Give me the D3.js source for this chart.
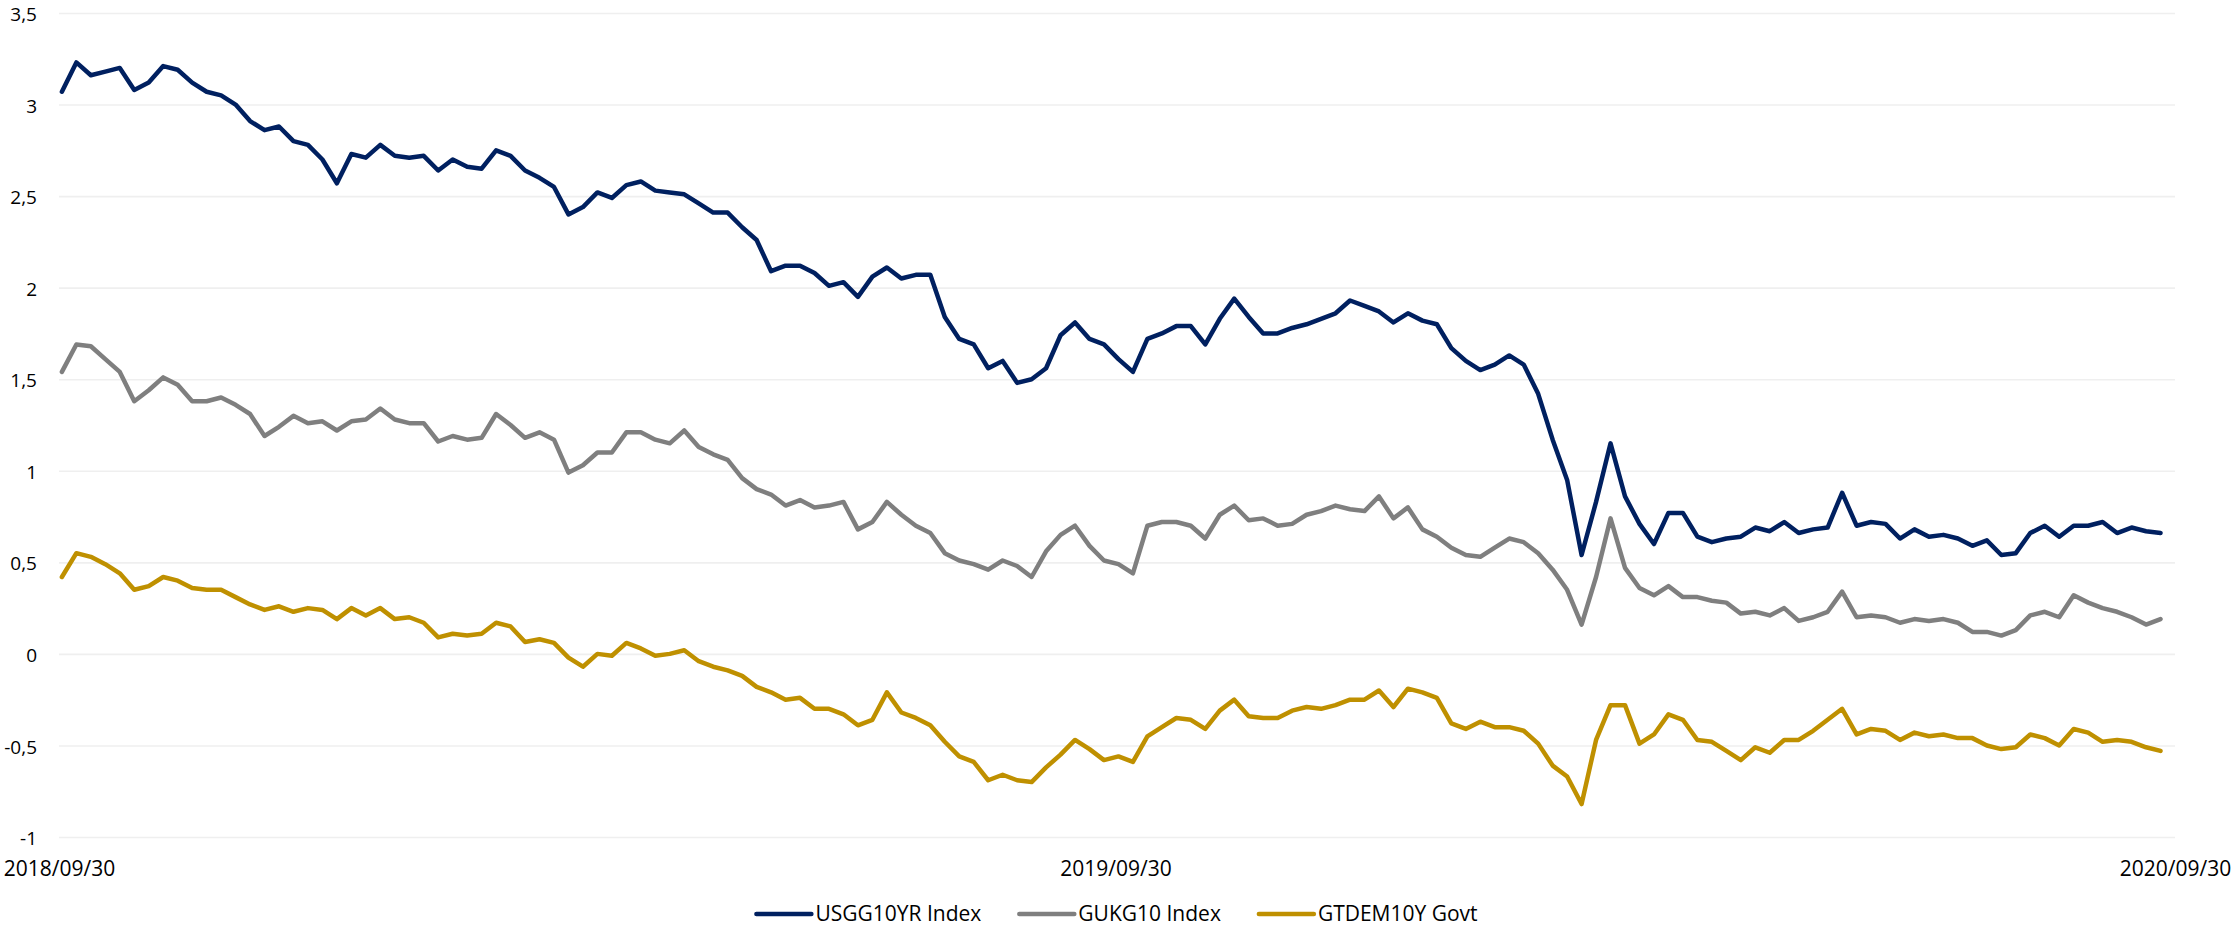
<!DOCTYPE html>
<html>
<head>
<meta charset="utf-8">
<script src="https://cdn.jsdelivr.net/npm/d3@7"></script>
<style>
  body { margin: 0; background: #fff; }
  svg text { font-family: "Open Sans", sans-serif; fill: #000; }
</style>
</head>
<body>
<svg id="chart"></svg>
<script>

// samples every 5 days starting 2018/10/01
const startDate = new Date(2018, 9, 1);
const stepDays = 5;

const usgg10yr = [
  3.07, 3.23, 3.16, 3.18, 3.20, 3.08, 3.12, 3.21, 3.19, 3.12, 3.07, 3.05, 3.00, 2.91, 2.86, 2.88, 2.80, 2.78, 2.70, 2.57, 2.73,
  2.71, 2.78, 2.72, 2.71, 2.72, 2.64, 2.70, 2.66, 2.65, 2.75, 2.72, 2.64, 2.60, 2.55, 2.40, 2.44, 2.52, 2.49, 2.56, 2.58, 2.53,
  2.52, 2.51, 2.46, 2.41, 2.41, 2.33, 2.26, 2.09, 2.12, 2.12, 2.08, 2.01, 2.03, 1.95, 2.06, 2.11, 2.05, 2.07, 2.07, 1.84, 1.72,
  1.69, 1.56, 1.60, 1.48, 1.50, 1.56, 1.74, 1.81, 1.72, 1.69, 1.61, 1.54, 1.72, 1.75, 1.79, 1.79, 1.69, 1.83, 1.94, 1.84, 1.75,
  1.75, 1.78, 1.80, 1.83, 1.86, 1.93, 1.90, 1.87, 1.81, 1.86, 1.82, 1.80, 1.67, 1.60, 1.55, 1.58, 1.63, 1.58, 1.42, 1.17, 0.95,
  0.54, 0.83, 1.15, 0.86, 0.71, 0.60, 0.77, 0.77, 0.64, 0.61, 0.63, 0.64, 0.69, 0.67, 0.72, 0.66, 0.68, 0.69, 0.88, 0.70, 0.72,
  0.71, 0.63, 0.68, 0.64, 0.65, 0.63, 0.59, 0.62, 0.54, 0.55, 0.66, 0.70, 0.64, 0.70, 0.70, 0.72, 0.66, 0.69, 0.67, 0.66
];

const gukg10 = [
  1.54, 1.69, 1.68, 1.61, 1.54, 1.38, 1.44, 1.51, 1.47, 1.38, 1.38, 1.40, 1.36, 1.31, 1.19, 1.24, 1.30, 1.26, 1.27, 1.22, 1.27,
  1.28, 1.34, 1.28, 1.26, 1.26, 1.16, 1.19, 1.17, 1.18, 1.31, 1.25, 1.18, 1.21, 1.17, 0.99, 1.03, 1.10, 1.10, 1.21, 1.21, 1.17,
  1.15, 1.22, 1.13, 1.09, 1.06, 0.96, 0.90, 0.87, 0.81, 0.84, 0.80, 0.81, 0.83, 0.68, 0.72, 0.83, 0.76, 0.70, 0.66, 0.55, 0.51,
  0.49, 0.46, 0.51, 0.48, 0.42, 0.56, 0.65, 0.70, 0.59, 0.51, 0.49, 0.44, 0.70, 0.72, 0.72, 0.70, 0.63, 0.76, 0.81, 0.73, 0.74,
  0.70, 0.71, 0.76, 0.78, 0.81, 0.79, 0.78, 0.86, 0.74, 0.80, 0.68, 0.64, 0.58, 0.54, 0.53, 0.58, 0.63, 0.61, 0.55, 0.46, 0.35,
  0.16, 0.42, 0.74, 0.47, 0.36, 0.32, 0.37, 0.31, 0.31, 0.29, 0.28, 0.22, 0.23, 0.21, 0.25, 0.18, 0.20, 0.23, 0.34, 0.20, 0.21,
  0.20, 0.17, 0.19, 0.18, 0.19, 0.17, 0.12, 0.12, 0.10, 0.13, 0.21, 0.23, 0.20, 0.32, 0.28, 0.25, 0.23, 0.20, 0.16, 0.19
];

const gtdem10y = [
  0.42, 0.55, 0.53, 0.49, 0.44, 0.35, 0.37, 0.42, 0.40, 0.36, 0.35, 0.35, 0.31, 0.27, 0.24, 0.26, 0.23, 0.25, 0.24, 0.19, 0.25,
  0.21, 0.25, 0.19, 0.20, 0.17, 0.09, 0.11, 0.10, 0.11, 0.17, 0.15, 0.065, 0.08, 0.06, -0.02, -0.07, 0.00, -0.01, 0.06, 0.03, -0.01,
  0.00, 0.02, -0.04, -0.07, -0.09, -0.12, -0.18, -0.21, -0.25, -0.24, -0.30, -0.30, -0.33, -0.39, -0.36, -0.21, -0.32, -0.35, -0.39, -0.48, -0.56,
  -0.59, -0.69, -0.66, -0.69, -0.70, -0.62, -0.55, -0.47, -0.52, -0.58, -0.56, -0.59, -0.45, -0.40, -0.35, -0.36, -0.41, -0.31, -0.25, -0.34, -0.35,
  -0.35, -0.31, -0.29, -0.30, -0.28, -0.25, -0.25, -0.20, -0.29, -0.19, -0.21, -0.24, -0.38, -0.41, -0.37, -0.40, -0.40, -0.42, -0.49, -0.61, -0.67,
  -0.82, -0.47, -0.28, -0.28, -0.49, -0.44, -0.33, -0.36, -0.47, -0.48, -0.53, -0.58, -0.51, -0.54, -0.47, -0.47, -0.42, -0.36, -0.30, -0.44, -0.41,
  -0.42, -0.47, -0.43, -0.45, -0.44, -0.46, -0.46, -0.50, -0.52, -0.51, -0.44, -0.46, -0.50, -0.41, -0.43, -0.48, -0.47, -0.48, -0.51, -0.53
];

const seriesNames = ["USGG10YR Index", "GUKG10 Index", "GTDEM10Y Govt"];
const seriesColors = ["#002060", "#7f7f7f", "#bf9000"];
const yTicks = [-1, -0.5, 0, 0.5, 1, 1.5, 2, 2.5, 3, 3.5];
const xTickLabels = ["2018/09/30", "2019/09/30", "2020/09/30"];

function drawChart(){

    const width = 2233, height = 929;
    const left = 59, right = 2175, top = 13, bottom = 837;

    const svg = d3.select("#chart")
                  .attr("width", width)
                  .attr("height", height);

    svg.selectAll("*").remove();

    const parse = d3.timeParse("%Y/%m/%d");
    const dates = usgg10yr.map((d, i) => d3.timeDay.offset(startDate, i * stepDays));

    const x = d3.scaleTime()
                .domain([parse(xTickLabels[0]), parse(xTickLabels[2])])
                .range([left, right]);

    const y = d3.scaleLinear()
                .domain([-1, 3.5])
                .range([bottom, top]);

    const fmt = v => String(v).replace(".", ",");

    // y axis: gridlines + labels
    const yAxis = d3.axisLeft(y)
                    .tickValues(yTicks)
                    .tickSize(-(right - left))
                    .tickPadding(22)
                    .tickFormat(fmt);

    svg.append("g")
       .attr("transform", `translate(${left},0)`)
       .call(yAxis)
       .call(g => g.select(".domain").remove())
       .call(g => g.selectAll(".tick line").attr("stroke", "#efefef").attr("stroke-width", 1.6))
       .call(g => g.selectAll(".tick text")
                   .attr("font-size", 19)
                   .attr("dy", "0.4em")
                   .attr("font-family", "Open Sans")
                   .attr("fill", "#000"));

    // x axis labels only
    const xAxis = d3.axisBottom(x)
                    .tickValues(xTickLabels.map(parse))
                    .tickSize(0)
                    .tickPadding(24)
                    .tickFormat(d3.timeFormat("%Y/%m/%d"));

    svg.append("g")
       .attr("transform", `translate(0,${bottom})`)
       .call(xAxis)
       .call(g => g.select(".domain").remove())
       .call(g => g.selectAll(".tick text")
                   .attr("font-size", 21)
                   .attr("font-family", "Open Sans")
                   .attr("fill", "#000"));

    const allSeries = [usgg10yr, gukg10, gtdem10y];

    const line = d3.line()
                   .x((d, i) => x(dates[i]))
                   .y(d => y(d));

    svg.append("g")
       .selectAll("path")
       .data(allSeries)
       .join("path")
       .attr("fill", "none")
       .attr("stroke", (d, i) => seriesColors[i])
       .attr("stroke-width", 4.5)
       .attr("stroke-linejoin", "round")
       .attr("stroke-linecap", "round")
       .attr("d", line);

    // legend, centred under the plot
    const legend = svg.append("g");
    const legY = 914;
    let cx = 0;
    seriesNames.forEach((name, i) => {
        const item = legend.append("g").attr("transform", `translate(${cx},0)`);
        item.append("line")
            .attr("x1", 0).attr("x2", 55)
            .attr("y1", legY).attr("y2", legY)
            .attr("stroke", seriesColors[i])
            .attr("stroke-width", 4.5)
            .attr("stroke-linecap", "round");
        const t = item.append("text")
            .attr("x", 59)
            .attr("y", legY)
            .attr("dy", "0.35em")
            .attr("font-size", 21)
            .text(name);
        cx += 59 + t.node().getComputedTextLength() + 38;
    });
    const legW = cx - 38;
    legend.attr("transform", `translate(${(left + right) / 2 - legW / 2},0)`);
}

drawChart();

</script>
</body>
</html>
